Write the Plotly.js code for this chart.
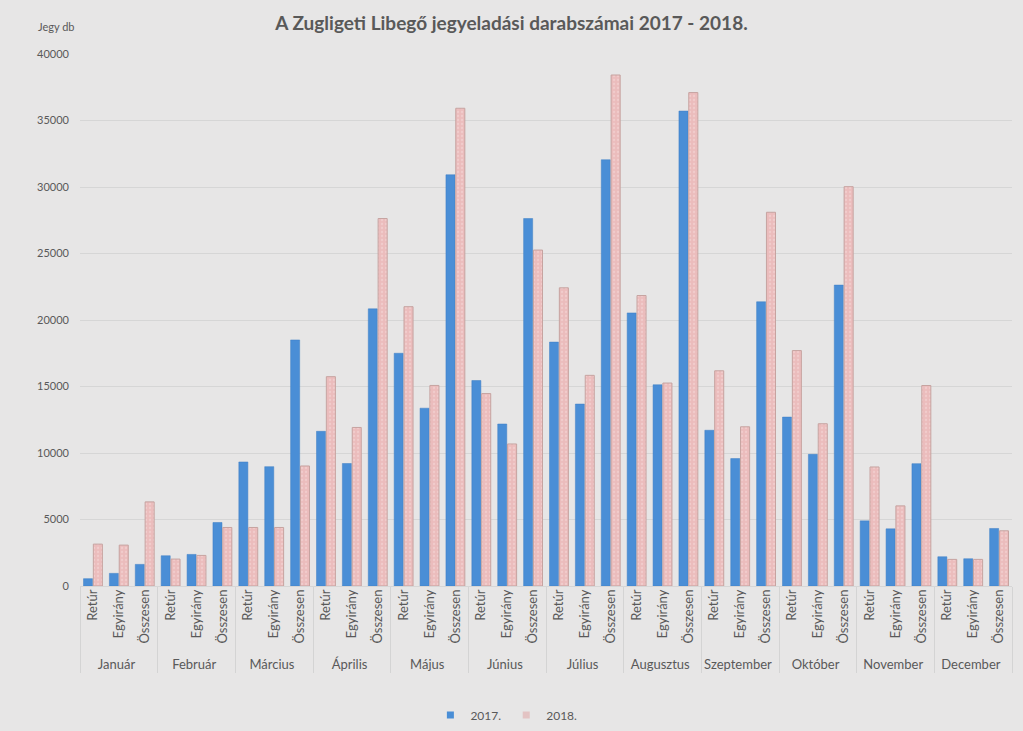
<!DOCTYPE html>
<html>
<head>
<meta charset="utf-8">
<script src="https://cdn.plot.ly/plotly-3.0.1.min.js"></script>
<style>html,body{margin:0;padding:0;background:#e7e6e6;}#chart{width:1023px;height:731px;}</style>
</head>
<body>
<div id="chart"></div>
<script>
const months = ["Január","Február","Március","Április","Május","Június","Július","Augusztus","Szeptember","Október","November","December"];
const types = ["Retúr","Egyirány","Összesen"];
const values2017 = [
  550, 950, 1625,
  2275, 2375, 4775,
  9325, 8975, 18500,
  11630, 9210, 20840,
  17500, 13370, 30920,
  15450, 12180, 27630,
  18340, 13680, 32050,
  20530, 15130, 35710,
  11710, 9580, 21370,
  12700, 9900, 22625,
  4900, 4300, 9200,
  2200, 2050, 4325
];
const values2018 = [
  3150, 3075, 6325,
  2025, 2300, 4400,
  4400, 4400, 9025,
  15740, 11920, 27630,
  21000, 15080, 35920,
  14470, 10680, 25260,
  22420, 15840, 38420,
  21840, 15260, 37100,
  16180, 11970, 28100,
  17700, 12200, 30025,
  8950, 6025, 15075,
  2000, 2000, 4150
];
const seriesNames = ["2017.","2018."];
const seriesColors = ["#4a8ed6","#ebbcbc"];

const outer = [], inner = [];
months.forEach(m => types.forEach(t => { outer.push(m); inner.push(t); }));

const font = "Lato, 'Open Sans', sans-serif";
const traces = [
  {type:"bar", name:seriesNames[0], x:[outer, inner], y:values2017, showlegend:false,
   marker:{color:seriesColors[0], line:{color:"#3f7fc4", width:0.5}}},
  {type:"bar", name:seriesNames[1], x:[outer, inner], y:values2018, showlegend:false,
   marker:{color:seriesColors[1], line:{color:"#c6a3a0", width:1},
           pattern:{shape:".", fgcolor:"#f5dcdc", size:4, solidity:0.25, fillmode:"overlay"}}},
  {type:"scatter", mode:"markers", name:seriesNames[0], x:[null], y:[null], xaxis:"x2", yaxis:"y2",
   marker:{symbol:"square", size:7, color:seriesColors[0]}},
  {type:"scatter", mode:"markers", name:seriesNames[1], x:[null], y:[null], xaxis:"x2", yaxis:"y2",
   marker:{symbol:"square", size:7, color:"#e3c3c3"}}
];
const layout = {
  width:1023, height:731,
  paper_bgcolor:"#e7e6e6", plot_bgcolor:"#e7e6e6",
  margin:{l:80, r:11, t:54, b:145},
  barmode:"group", bargap:0.24, bargroupgap:0.08,
  font:{family:font, color:"#595959", size:11},
  title:{text:"<b>A Zugligeti Libegő jegyeladási darabszámai 2017 - 2018.</b>",
         font:{family:font, size:19, color:"#595959"}, x:0.5, xanchor:"center", y:0.968, yanchor:"middle"},
  xaxis:{type:"multicategory", tickangle:-90, showgrid:false, zeroline:false,
         showline:false, ticks:"outside", ticklen:25, tickcolor:"rgba(0,0,0,0)",
         showdividers:true, dividercolor:"#d4d4d4", dividerwidth:1,
         tickfont:{size:13, color:"#595959"}},
  yaxis:{range:[0,40000], dtick:5000, showgrid:true, gridcolor:"#d6d6d6", gridwidth:1,
         zeroline:true, zerolinecolor:"#d6d6d6", showline:false, ticks:"",
         ticklabelstandoff:10, tickformat:"d", tickfont:{size:11, color:"#595959"}},
  xaxis2:{overlaying:"x", visible:false, range:[0,1]},
  yaxis2:{overlaying:"y", visible:false, range:[0,1]},
  legend:{orientation:"h", x:0.495, xanchor:"center", xref:"container", yref:"container", y:0.022, yanchor:"middle",
          itemwidth:30, font:{size:12, color:"#595959"}, bgcolor:"rgba(0,0,0,0)"},
  annotations:[{text:"Jegy db", xref:"paper", yref:"paper", x:-0.025, y:1.051,
                xanchor:"center", yanchor:"middle", showarrow:false,
                font:{size:11, color:"#595959", family:font}}]
};
Plotly.newPlot("chart", traces, layout, {displayModeBar:false, staticPlot:true});
</script>
</body>
</html>
